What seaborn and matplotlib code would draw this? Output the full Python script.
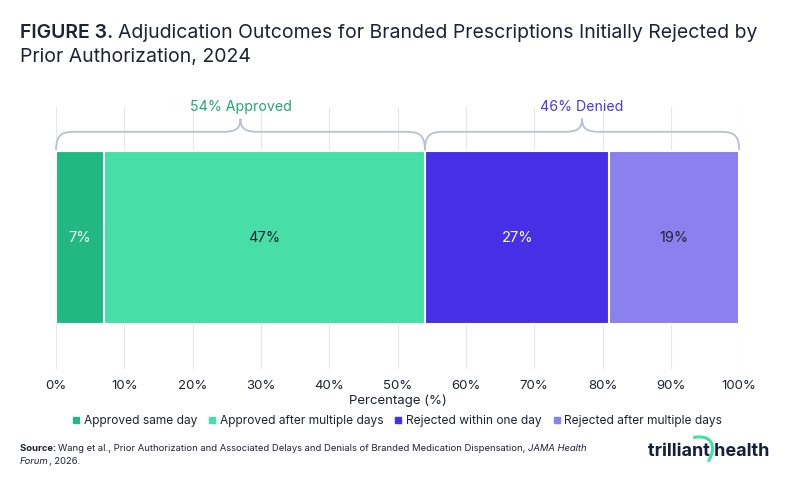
import numpy as np
import seaborn as sns
import matplotlib.pyplot as plt
from matplotlib.path import Path
from matplotlib.patches import PathPatch
from matplotlib.lines import Line2D

# data
categories = ["Approved same day", "Approved after multiple days",
              "Rejected within one day", "Rejected after multiple days"]
shares = [7, 47, 27, 19]
colors = ["#22b883", "#48dea8", "#462fe5", "#8c80ef"]
label_colors = ["white", "#1e2333", "white", "#1e2333"]
group_names = ["Approved", "Denied"]
group_members = [[0, 1], [2, 3]]
group_colors = ["#22a872", "#4a3ae5"]
xticks = [0, 10, 20, 30, 40, 50, 60, 70, 80, 90, 100]

DARK = "#1e2333"

sns.set_theme(style="white")
plt.rcParams["font.family"] = ["Inter", "DejaVu Sans"]

fig = plt.figure(figsize=(8, 4.86), dpi=100)
ax = fig.add_axes([0.07, 0.241, 0.854, 0.539])

# stacked bar: draw cumulative totals from the longest down so they overlap
ends = np.cumsum(shares)
starts = ends - np.array(shares)
for i in range(len(shares) - 1, -1, -1):
    sns.barplot(x=[ends[i]], y=[0], orient="h", color=colors[i], width=0.66,
                edgecolor="white", linewidth=1.5, saturation=1, ax=ax,
                native_scale=True)

ax.set_xlim(0, 100)
ax.set_ylim(0.5, -0.5)
ax.set_yticks([])
ax.set_xticks(xticks)
ax.set_xticklabels([f"{t}%" for t in xticks], color=DARK, fontsize=9.5)
ax.tick_params(axis="x", length=0, pad=8)
ax.grid(axis="x", color="#e6e8ec", linewidth=0.9)
ax.set_axisbelow(True)
for s in ax.spines.values():
    s.set_visible(False)
ax.set_xlabel("Percentage (%)", color=DARK, fontsize=9.5, labelpad=2)
ax.set_ylabel("")

# value labels inside segments
for i, v in enumerate(shares):
    ax.text(starts[i] + v / 2, 0, f"{v}%", ha="center", va="center",
            color=label_colors[i], fontsize=10.5)

# curly braces over each group
yb, yh, yp = -0.335, -0.405, -0.455
for name, members, gc in zip(group_names, group_members, group_colors):
    x0 = starts[members[0]]
    x1 = ends[members[-1]]
    xm = (x0 + x1) / 2
    r = 3.2
    r2 = 2.6
    verts = [(x0, yb),
             (x0, yh), (x0 + r * 0.4, yh), (x0 + r, yh),
             (xm - r2, yh),
             (xm - r2 * 0.3, yh), (xm, yh - 0.01), (xm, yp),
             (xm, yh - 0.01), (xm + r2 * 0.3, yh), (xm + r2, yh),
             (x1 - r, yh),
             (x1 - r * 0.4, yh), (x1, yh), (x1, yb)]
    codes = [Path.MOVETO,
             Path.CURVE4, Path.CURVE4, Path.CURVE4,
             Path.LINETO,
             Path.CURVE4, Path.CURVE4, Path.CURVE4,
             Path.CURVE4, Path.CURVE4, Path.CURVE4,
             Path.LINETO,
             Path.CURVE4, Path.CURVE4, Path.CURVE4]
    ax.add_patch(PathPatch(Path(verts, codes), facecolor="none",
                           edgecolor="#b8c1cf", linewidth=1.3, clip_on=False))
    total = sum(shares[m] for m in members)
    ax.text(xm, -0.5, f"{total}% {name}", ha="center", va="center",
            color=gc, fontsize=10.2, clip_on=False)

# legend
handles = [Line2D([], [], marker="s", linestyle="none", markersize=4.5,
                  markerfacecolor=c, markeredgecolor=c) for c in colors]
fig.legend(handles, categories, loc="center", bbox_to_anchor=(0.497, 0.134),
           ncol=4, frameon=False, fontsize=8.6, handlelength=0.5,
           handletextpad=0.4, columnspacing=1.0, labelcolor=DARK)


def runs(x, y, parts, size):
    # place text pieces one after another on the same baseline
    r = fig.canvas.get_renderer()
    for txt, kw in parts:
        t = fig.text(x, y, txt, fontsize=size, color=DARK, va="baseline", **kw)
        bb = t.get_window_extent(renderer=r)
        x += bb.width / fig.bbox.width


runs(0.025, 1 - 38 / 486,
     [("FIGURE 3. ", {"fontweight": "semibold"}),
      ("Adjudication Outcomes for Branded Prescriptions Initially Rejected by", {})], 14)
runs(0.025, 1 - 62 / 486, [("Prior Authorization, 2024", {})], 14)

runs(0.025, 1 - 451 / 486,
     [("Source: ", {"fontweight": "bold"}),
      ("Wang et al., Prior Authorization and Associated Delays and Denials of Branded Medication Dispensation, ", {}),
      ("JAMA Health", {"fontstyle": "italic"})], 6.8)
runs(0.025, 1 - 464 / 486,
     [("Forum", {"fontstyle": "italic"}), (", 2026.", {})], 6.8)

# logo wordmark with a small green swoosh
fig.text(0.962, 1 - 456 / 486, "trilliant health", ha="right", va="baseline",
         fontsize=13, fontweight="bold", color="#14203a")
sw = np.array([[0.868, 0.100], [0.888, 0.106], [0.897, 0.085], [0.886, 0.052]])
fig.add_artist(PathPatch(Path(sw, [Path.MOVETO, Path.CURVE4, Path.CURVE4, Path.CURVE4]),
                         facecolor="none", edgecolor="#3ee3a4", linewidth=2.2,
                         capstyle="round", transform=fig.transFigure))

fig.savefig("out.png", dpi=100)
